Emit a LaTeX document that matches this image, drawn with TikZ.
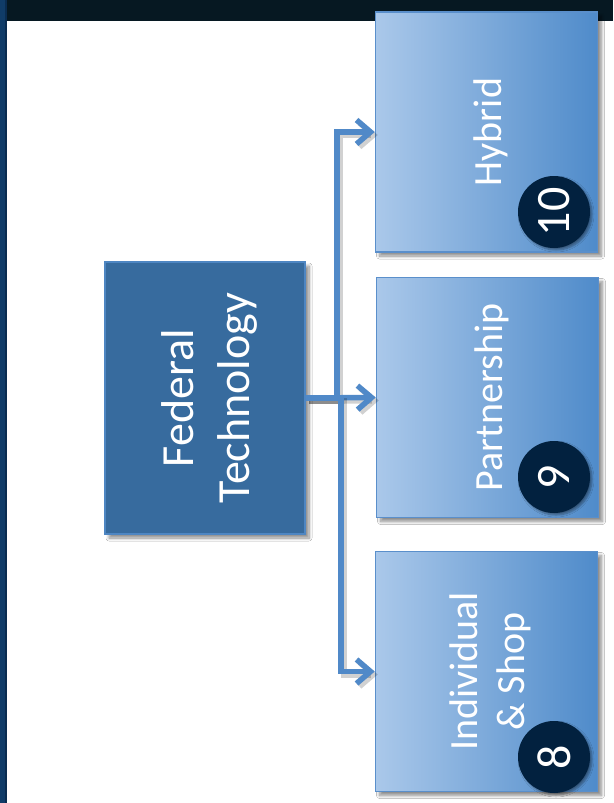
\documentclass[tikz,border=0pt]{standalone}
\usepackage{fontspec}
\setmainfont{Carlito}
\usetikzlibrary{arrows.meta,shadows.blur}

\definecolor{barDark}{HTML}{061822}
\definecolor{stripBlue}{HTML}{103C68}
\definecolor{stripEdge}{HTML}{0A2C50}
\definecolor{fedFill}{HTML}{376B9E}
\definecolor{fedEdge}{HTML}{4E86C2}
\definecolor{boxLight}{HTML}{AAC8EA}
\definecolor{boxDeep}{HTML}{4F8BCA}
\definecolor{boxEdge}{HTML}{5A8FCB}
\definecolor{connBlue}{HTML}{5089C8}
\definecolor{badgeNavy}{HTML}{02213F}

% upright text turned a quarter turn, nudged toward the lower side of the box
\newcommand{\sidetext}[1]{\hspace*{11pt}\rotatebox{90}{\begin{tabular}{@{}c@{}}#1\end{tabular}}}

\tikzset{
  softshadow/.style={blur shadow={shadow xshift=4pt, shadow yshift=-4pt,
      shadow blur steps=8, shadow blur radius=3pt, shadow opacity=45}},
  fedbox/.style={rectangle, draw=fedEdge, line width=1.5pt, fill=fedFill,
      minimum width=200pt, minimum height=272pt, inner sep=0pt,
      text=white, softshadow},
  kindbox/.style={rectangle, draw=boxEdge, line width=1.5pt,
      left color=boxLight, right color=boxDeep,
      minimum width=222pt, minimum height=240pt, inner sep=0pt,
      text=white, softshadow},
  badge/.style={circle, fill=badgeNavy, minimum size=72pt, inner sep=0pt,
      text=white, blur shadow={shadow xshift=2pt, shadow yshift=-2pt,
      shadow blur steps=6, shadow blur radius=2pt, shadow opacity=40}},
  conn/.style={draw=connBlue, line width=5.5pt,
      -{Straight Barb[length=14pt, width=24pt, line width=5.5pt]},
      preaction={draw=black, opacity=0.18, line width=6pt,
        transform canvas={xshift=3pt, yshift=-3pt}}},
  bigtext/.style={font=\fontsize{46}{56}\selectfont},
  midtext/.style={font=\fontsize{40}{47}\selectfont},
  numtext/.style={font=\fontsize{48}{56}\selectfont},
}

\begin{document}
\begin{tikzpicture}[x=1pt, y=-1pt]
  \useasboundingbox (0,0) rectangle (613,803);
  \fill[white] (0,0) rectangle (613,803);

  % slide frame: dark title band and blue left edge
  \fill[barDark] (7,0) rectangle (613,21);
  \fill[stripBlue] (0,0) rectangle (5,803);
  \fill[stripEdge] (5,0) rectangle (7,803);

  % root box
  \node[fedbox, bigtext] (fed) at (205,398) {\sidetext{Federal\\Technology}};

  % branch boxes
  \node[kindbox, midtext] (hyb) at (486.5,132) {\sidetext{Hybrid}};
  \node[kindbox, midtext] (par) at (487.5,397.5) {\sidetext{Partnership}};
  \node[kindbox, midtext] (ind) at (486.5,671.5) {\sidetext{Individual\\\& Shop}};

  % number badges
  \node[badge, numtext] (n10) at (554,212) {\rotatebox{90}{10}};
  \node[badge, numtext] (n9) at (554,477) {\rotatebox{90}{9}};
  \node[badge, numtext] (n8) at (554,757) {\rotatebox{90}{8}};

  % elbow points of the connectors
  \coordinate (jt) at (337,398);
  \coordinate (jb) at (341,398);

  \draw[conn] (fed.east) -- (jt) |- (hyb.west);
  \draw[conn] (fed.east) -- (par.west);
  \draw[conn] (fed.east) -- (jb) |- (ind.west);
\end{tikzpicture}
\end{document}
